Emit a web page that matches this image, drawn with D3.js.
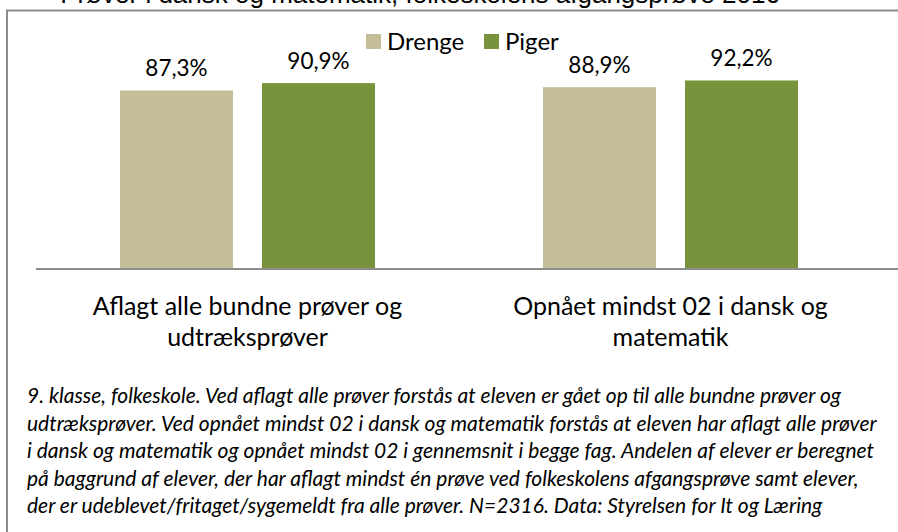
<!DOCTYPE html>
<html><head><meta charset="utf-8">
<script src="https://cdn.jsdelivr.net/npm/d3@7"></script>
<style>body{margin:0;background:#fff;} svg{display:block;}</style>
</head><body><svg id="c" width="898" height="532"></svg>
<script>
const titleText = "Prøver i dansk og matematik, folkeskolens afgangsprøve 2016";
const categories = ["Aflagt alle bundne prøver og udtræksprøver", "Opnået mindst 02 i dansk og matematik"];
const categoryLines = [["Aflagt alle bundne prøver og", "udtræksprøver"], ["Opnået mindst 02 i dansk og", "matematik"]];
const seriesNames = ["Drenge", "Piger"];
const drenge = [87.3, 88.9];
const piger = [90.9, 92.2];
const seriesColors = ["#C4BD97", "#77933C"];
const footnoteLines = [
  "9. klasse, folkeskole. Ved aflagt alle prøver forstås at eleven er gået op til alle bundne prøver og",
  "udtræksprøver. Ved opnået mindst 02 i dansk og matematik forstås at eleven har aflagt alle prøver",
  "i dansk og matematik og opnået mindst 02 i gennemsnit i begge fag. Andelen af elever er beregnet",
  "på baggrund af elever, der har aflagt mindst én prøve ved folkeskolens afgangsprøve samt elever,",
  "der er udeblevet/fritaget/sygemeldt fra alle prøver. N=2316. Data: Styrelsen for It og Læring"
];

const values = [drenge, piger];
const locale = d3.formatLocale({decimal: ",", thousands: ".", grouping: [3], currency: ["", " kr."]});
const fmt = v => locale.format(".1f")(v) + "%";

const svg = d3.select("#c");
const W = 898, H = 532;
const labelFont = "Lato, 'Open Sans', sans-serif";

// title (cut off at top in the reference)
svg.append("text").attr("x", 420).attr("y", 3).attr("text-anchor", "middle")
  .attr("font-family", "'Liberation Sans', Arial, sans-serif").attr("font-size", 26).attr("fill", "#000")
  .text(titleText);

// frame
svg.append("path").attr("d", `M7,${H} V10.5 H${W}`).attr("fill", "none")
  .attr("stroke", "#8c8c8c").attr("stroke-width", 2);

const x0 = d3.scaleBand().domain(categories).range([36, 882]);
const x1 = d3.scaleBand().domain(seriesNames).range([84, 339]).paddingInner(0.204);
const y = d3.scaleLinear().domain([0, 100]).range([269, 64.5]);

const data = [];
categories.forEach((c, i) => seriesNames.forEach((s, j) => data.push({c, s, j, v: values[j][i]})));

const g = svg.append("g");
g.selectAll("rect.bar").data(data).join("rect").attr("class", "bar")
  .attr("x", d => x0(d.c) + x1(d.s)).attr("width", x1.bandwidth())
  .attr("y", d => y(d.v)).attr("height", d => y(0) - y(d.v))
  .attr("fill", d => seriesColors[d.j]);

g.selectAll("text.val").data(data).join("text").attr("class", "val")
  .attr("x", d => x0(d.c) + x1(d.s) + x1.bandwidth() / 2)
  .attr("y", d => y(d.v) - 14).attr("text-anchor", "middle")
  .attr("font-family", labelFont).attr("font-size", 22.5).attr("fill", "#000")
  .text(d => fmt(d.v));

// axis line
svg.append("line").attr("x1", 36).attr("x2", W).attr("y1", y(0)).attr("y2", y(0))
  .attr("stroke", "#8c8c8c").attr("stroke-width", 2);

// category labels
const cl = svg.selectAll("text.cat").data(categories).join("text").attr("class", "cat")
  .attr("text-anchor", "middle").attr("font-family", labelFont).attr("font-size", 25).attr("fill", "#000");
cl.each(function(c, i) {
  const t = d3.select(this);
  categoryLines[i].forEach((ln, k) => {
    t.append("tspan").attr("x", x0(c) + x0.bandwidth() / 2).attr("y", 315 + k * 31).text(ln);
  });
});

// legend
const lg = svg.append("g");
const legX = [366, 484];
seriesNames.forEach((s, j) => {
  lg.append("rect").attr("x", legX[j]).attr("y", 34).attr("width", 15).attr("height", 15).attr("fill", seriesColors[j]);
  lg.append("text").attr("x", legX[j] + 21).attr("y", 50).attr("font-family", labelFont)
    .attr("font-size", 24).attr("fill", "#000").text(s);
});

// footnote
const fn = svg.append("text").attr("font-family", labelFont).attr("font-style", "italic")
  .attr("font-size", 21).attr("fill", "#000");
footnoteLines.forEach((ln, k) => {
  fn.append("tspan").attr("x", 27).attr("y", 403 + k * 27.6).text(ln);
});
</script></body></html>
